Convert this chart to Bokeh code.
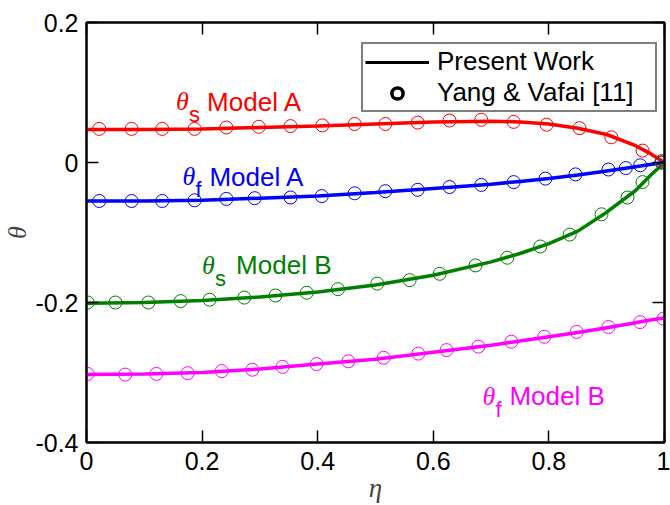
from bokeh.plotting import figure
from bokeh.models import (Range1d, FixedTicker, LinearAxis, Legend, LegendItem,
                          ColumnDataSource, CustomLabelingPolicy)
from bokeh.core.properties import value
from bokeh.embed import file_html
from bokeh.resources import INLINE

# ---------------- data ----------------
eta_line = [0.0, 0.1, 0.2, 0.3, 0.4, 0.5, 0.6, 0.7, 0.75, 0.8, 0.85, 0.9, 0.95, 0.975, 1.0]
theta_s_A_line = [0.047, 0.047, 0.048, 0.050, 0.052, 0.055, 0.058, 0.059, 0.058, 0.055,
                  0.049, 0.040, 0.024, 0.013, 0.0]
theta_f_A_line = [-0.055, -0.055, -0.054, -0.051, -0.048, -0.043, -0.037, -0.031, -0.027,
                  -0.023, -0.018, -0.012, -0.006, -0.003, 0.0]
theta_s_B_line = [-0.201, -0.200, -0.197, -0.192, -0.185, -0.175, -0.161, -0.142, -0.130,
                  -0.116, -0.098, -0.071, -0.040, -0.019, 0.0]
theta_f_B_line = [-0.303, -0.302, -0.300, -0.295, -0.288, -0.281, -0.271, -0.261, -0.255,
                  -0.249, -0.243, -0.236, -0.229, -0.225, -0.222]

# Yang & Vafai [11] reference points
eta_s_A = [0.022, 0.078, 0.131, 0.187, 0.242, 0.298, 0.353, 0.408, 0.464, 0.517, 0.573,
           0.628, 0.683, 0.739, 0.796, 0.853, 0.908, 0.962, 0.995]
pts_s_A = [0.048, 0.048, 0.048, 0.048, 0.050, 0.051, 0.052, 0.053, 0.055, 0.055, 0.057,
           0.060, 0.061, 0.058, 0.054, 0.049, 0.036, 0.017, 0.002]
eta_f_A = [0.022, 0.078, 0.131, 0.187, 0.242, 0.291, 0.353, 0.407, 0.464, 0.517, 0.573,
           0.628, 0.683, 0.739, 0.794, 0.846, 0.903, 0.933, 0.958, 0.995]
pts_f_A = [-0.055, -0.055, -0.055, -0.054, -0.052, -0.051, -0.050, -0.048, -0.044, -0.041,
           -0.039, -0.035, -0.032, -0.028, -0.023, -0.017, -0.010, -0.008, -0.004, 0.0]
eta_s_B = [0.002, 0.050, 0.107, 0.163, 0.213, 0.273, 0.327, 0.381, 0.435, 0.503, 0.559,
           0.611, 0.673, 0.728, 0.785, 0.836, 0.891, 0.936, 0.962, 0.995]
pts_s_B = [-0.200, -0.200, -0.200, -0.198, -0.196, -0.193, -0.190, -0.186, -0.181, -0.173,
           -0.168, -0.159, -0.147, -0.136, -0.120, -0.103, -0.074, -0.050, -0.028, 0.0]
eta_f_B = [0.002, 0.067, 0.121, 0.175, 0.234, 0.287, 0.339, 0.398, 0.453, 0.514, 0.574,
           0.623, 0.678, 0.735, 0.792, 0.848, 0.903, 0.958, 0.998]
pts_f_B = [-0.302, -0.303, -0.302, -0.301, -0.298, -0.296, -0.292, -0.288, -0.284, -0.279,
           -0.273, -0.268, -0.263, -0.256, -0.249, -0.242, -0.235, -0.228, -0.223]

x_ticks = [0, 0.2, 0.4, 0.6, 0.8, 1.0]
x_tick_labels = ["0", "0.2", "0.4", "0.6", "0.8", "1"]
y_ticks = [-0.4, -0.2, 0, 0.2]
y_tick_labels = ["-0.4", "-0.2", "0", "0.2"]

# curve annotations
ann_x = [0.155, 0.166, 0.200, 0.685]
ann_y = [0.087, -0.020, -0.147, -0.334]
ann_sub = ["s", "f", "s", "f"]
ann_text = ["Model A", "Model A", "Model B", "Model B"]
ann_color = ["#ff0000", "#0000ff", "#008000", "#ff00ff"]
ann_text_offset = [31, 27, 34, 27]

legend_labels = ["Present Work", "Yang & Vafai [11]"]

# ---------------- figure ----------------
SANS = "Liberation Sans"
SERIF = "Liberation Serif"

p = figure(width=670, height=505, output_backend="svg", toolbar_location=None,
           x_range=Range1d(0, 1), y_range=Range1d(-0.4, 0.2),
           x_axis_location=None, y_axis_location=None,
           min_border_left=86, min_border_right=6, min_border_top=22,
           min_border_bottom=63)
p.background_fill_color = "white"
p.border_fill_color = "white"
p.outline_line_color = "black"
p.outline_line_width = 2
p.xgrid.visible = False
p.ygrid.visible = False

hide_all = CustomLabelingPolicy(code="""
for (const i of indices) indices.unset(i)
return indices
""")


def style_axis(ax, ticks, labels, show_labels):
    ax.ticker = FixedTicker(ticks=ticks)
    ax.major_label_overrides = {t: l for t, l in zip(ticks, labels)}
    ax.major_tick_in = 12
    ax.major_tick_out = 0
    ax.major_tick_line_width = 1.5
    ax.major_tick_line_color = "black"
    ax.minor_tick_line_color = None
    ax.axis_line_color = "black"
    ax.axis_line_width = 2
    if show_labels:
        ax.major_label_text_font = SANS
        ax.major_label_text_font_size = "25px"
        ax.major_label_text_color = "black"
    else:
        ax.major_label_text_font_size = "1px"
        ax.major_label_standoff = 0
        ax.major_label_policy = hide_all


xb = LinearAxis()
style_axis(xb, x_ticks, x_tick_labels, True)
xb.major_label_standoff = 9
xb.axis_label = "η"
xb.axis_label_text_font = SERIF
xb.axis_label_text_font_style = "italic"
xb.axis_label_text_font_size = "27px"
xb.axis_label_standoff = 0
p.add_layout(xb, "below")

yl = LinearAxis()
style_axis(yl, y_ticks, y_tick_labels, True)
yl.major_label_standoff = 8
yl.axis_label = "θ"
yl.axis_label_text_font = SERIF
yl.axis_label_text_font_style = "italic"
yl.axis_label_text_font_size = "26px"
yl.axis_label_standoff = 0
p.add_layout(yl, "left")

xt = LinearAxis()
style_axis(xt, x_ticks, x_tick_labels, False)
p.add_layout(xt, "above")

yr = LinearAxis()
style_axis(yr, y_ticks, y_tick_labels, False)
p.add_layout(yr, "right")

series = [
    (theta_s_A_line, eta_s_A, pts_s_A, "#ff0000"),
    (theta_f_A_line, eta_f_A, pts_f_A, "#0000ff"),
    (theta_s_B_line, eta_s_B, pts_s_B, "#008000"),
    (theta_f_B_line, eta_f_B, pts_f_B, "#ff00ff"),
]
for yline, ex, ey, col in series:
    p.line(eta_line, yline, line_color=col, line_width=3.5)
for yline, ex, ey, col in series:
    p.scatter(ex, ey, marker="circle", size=13, line_color=col, line_width=1,
              fill_color=None)

# annotations
src = ColumnDataSource(dict(x=ann_x, y=ann_y, sub=ann_sub, txt=ann_text,
                            col=ann_color, off=ann_text_offset,
                            theta=["θ"] * len(ann_x)))
p.text(x="x", y="y", text="theta", source=src, text_color="col",
       text_font=value(SERIF), text_font_style="italic", text_font_size="26px",
       text_baseline="alphabetic", text_align="left")
p.text(x="x", y="y", text="sub", source=src, text_color="col",
       text_font=value(SANS), text_font_size="22px", x_offset=13, y_offset=13,
       text_baseline="alphabetic", text_align="left")
p.text(x="x", y="y", text="txt", source=src, text_color="col",
       text_font=value(SANS), text_font_size="26px", x_offset="off",
       text_baseline="alphabetic", text_align="left")

# legend (proxy renderers, hidden in the plot, shown only in the legend)
r_line = p.line(eta_line, theta_s_A_line, line_color="black", line_width=3,
                visible=False)
r_circ = p.scatter(eta_s_A, pts_s_A, marker="circle", size=16, line_color="black",
                   line_width=3.5, fill_color=None, visible=False)
legend = Legend(items=[LegendItem(label=legend_labels[0], renderers=[r_line]),
                       LegendItem(label=legend_labels[1], renderers=[r_circ])],
                location=(275, 330), margin=0, padding=2, spacing=0,
                glyph_width=64, glyph_height=28, label_height=28,
                label_standoff=8, label_width=216,
                label_text_font=SANS, label_text_font_size="26px",
                label_text_color="black",
                inactive_fill_alpha=0,
                border_line_color="black", border_line_width=2,
                background_fill_color="white", background_fill_alpha=1)
p.add_layout(legend)

open("out.html", "w").write(file_html(p, INLINE))
